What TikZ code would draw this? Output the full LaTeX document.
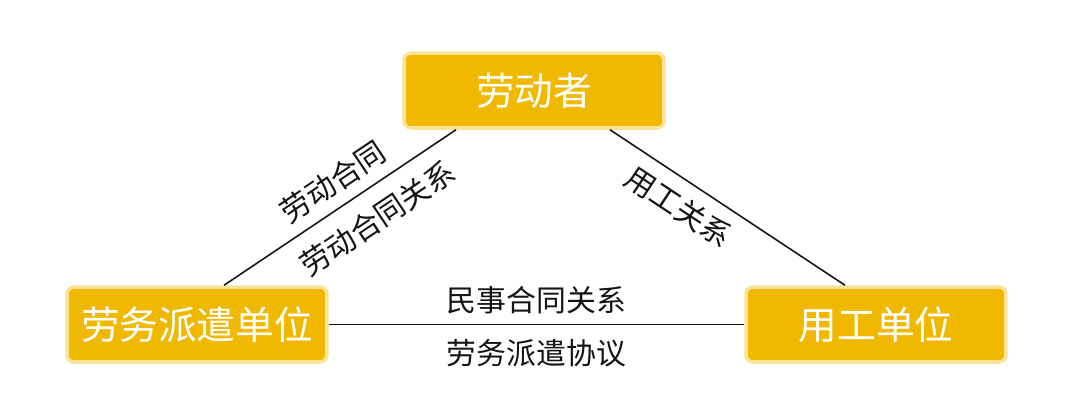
\documentclass[tikz,border=0pt]{standalone}
\usepackage{fontspec}
\setmainfont{Noto Sans CJK SC}
\usetikzlibrary{positioning}
\definecolor{amber}{RGB}{241,184,0}
\definecolor{inkline}{RGB}{20,20,20}
\tikzset{
  partybox/.style={fill=amber,draw=amber!40,line width=2pt,rounded corners=4pt,
    minimum width=5.2cm,minimum height=1.5cm,text=white,
    font=\fontsize{22}{26}\selectfont},
  linklabel/.style={font=\fontsize{17}{20}\selectfont,inner sep=0pt,text=inkline},
  link/.style={draw=inkline,line width=0.9pt}
}
\begin{document}
\begin{tikzpicture}[x=0.02cm,y=-0.02cm]
  \useasboundingbox (0,0) rectangle (1080,414);
  \node[partybox] (worker) at (534,90.5) {劳动者};
  \node[partybox] (agency) at (197,324.5) {劳务派遣单位};
  \node[partybox] (employer) at (876,324.5) {用工单位};
  % labour contract side
  \draw[link] ([xshift=0.54cm]agency.north) -- ([xshift=-1.56cm]worker.south)
    node[linklabel,sloped,pos=0.53,above=0.22cm] (contract) {劳动合同}
    node[linklabel,sloped,pos=0.59,below=0.31cm] (contractrel) {劳动合同关系};
  % employment side
  \draw[link] ([xshift=1.52cm]worker.south) -- ([xshift=-0.62cm]employer.north)
    node[linklabel,sloped,pos=0.355,below=0.24cm] (employrel) {用工关系};
  % dispatch agreement
  \draw[link] (agency.east) -- (employer.west)
    node[linklabel,midway,above=0.19cm] (civilrel) {民事合同关系}
    node[linklabel,midway,below=0.29cm] (dispatchdeal) {劳务派遣协议};
\end{tikzpicture}
\end{document}
